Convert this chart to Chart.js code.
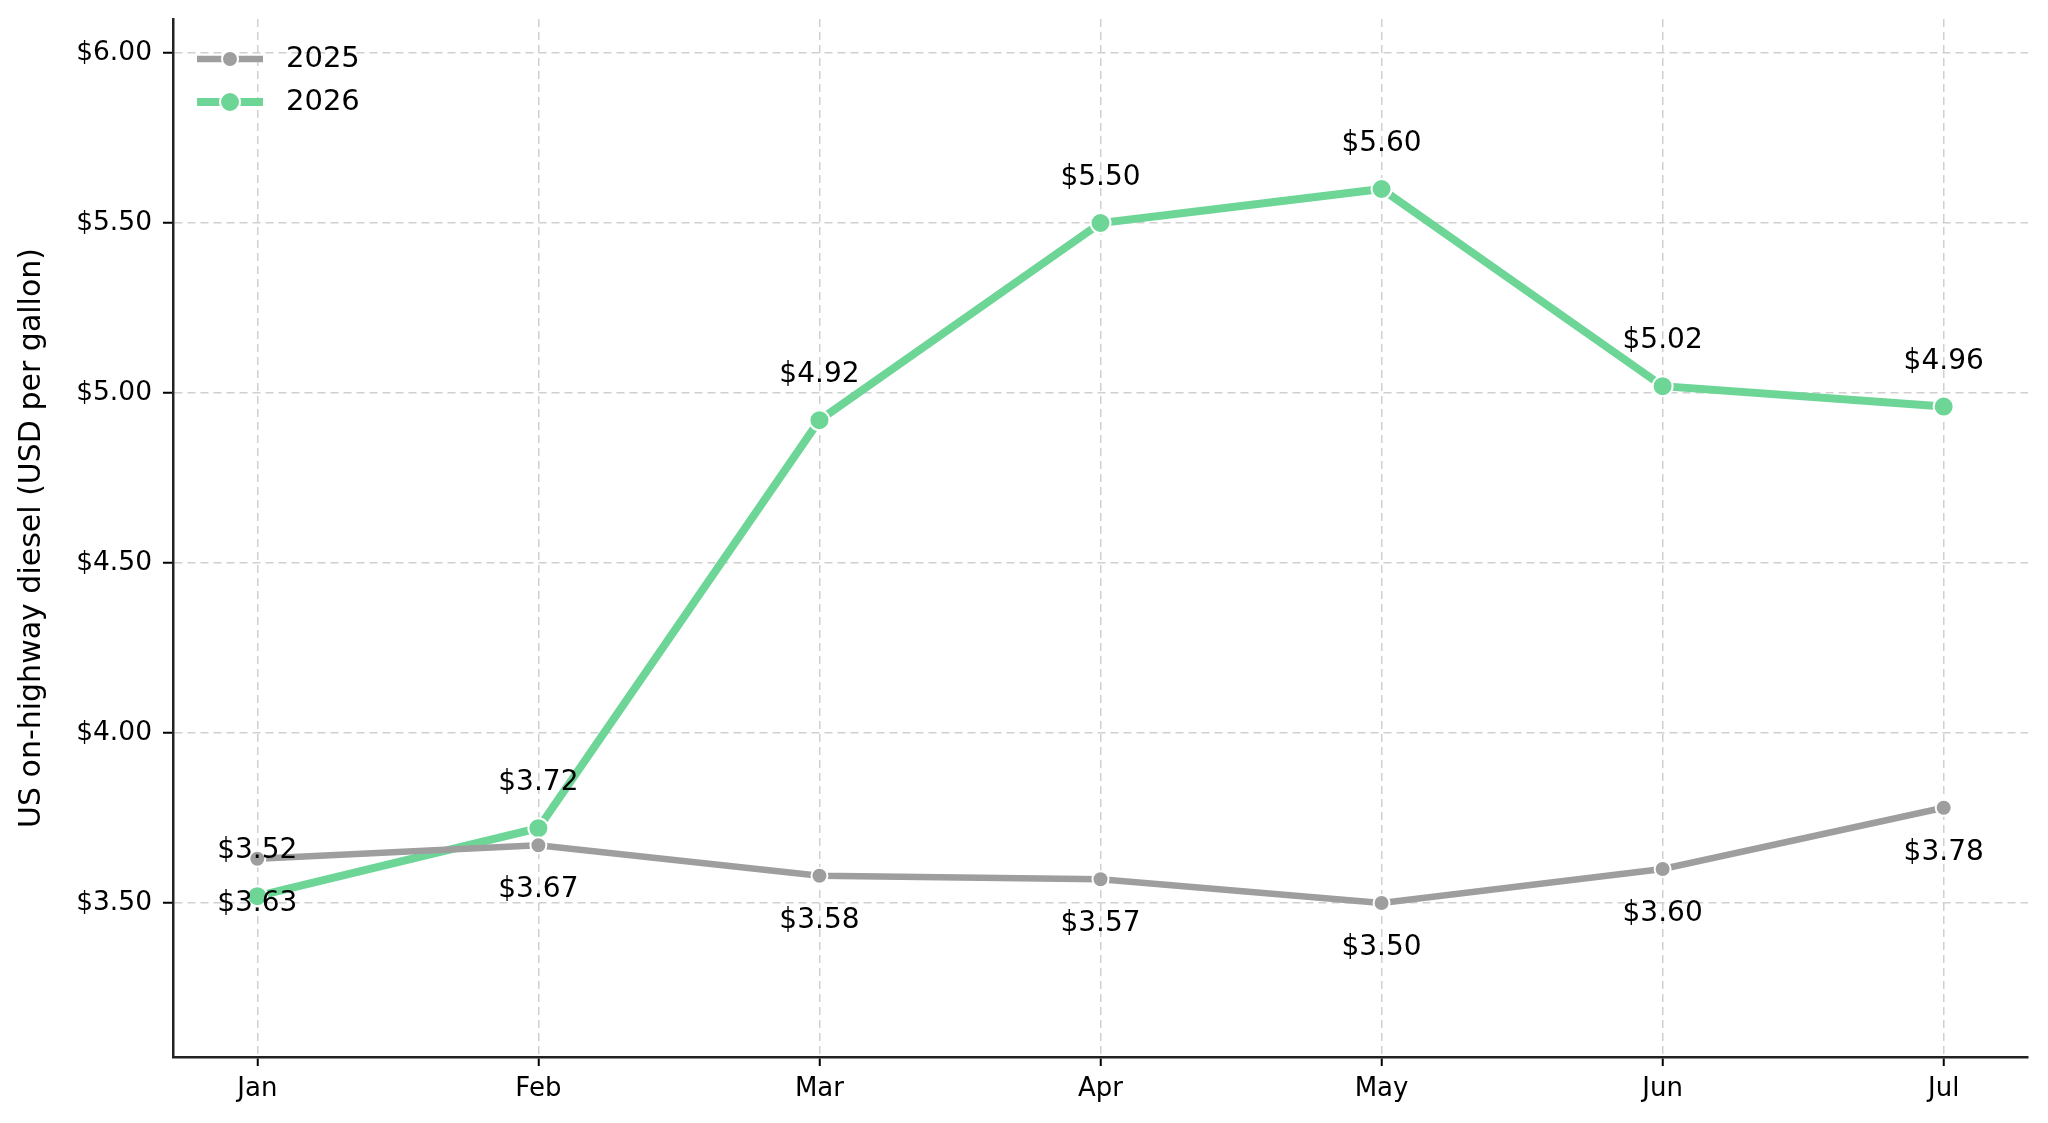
<!DOCTYPE html>
<html>
<head>
<meta charset="utf-8">
<title>US on-highway diesel</title>
<script src="https://cdn.jsdelivr.net/npm/chart.js@4.4.1/dist/chart.umd.min.js"></script>
<style>
    html, body { margin: 0; padding: 0; background: #fff; }
    #wrap { width: 2048px; height: 1123px; }
</style>
</head>
<body>
<div id="wrap"><canvas id="dieselChart" width="2048" height="1123"></canvas></div>
<script>
const months = ['Jan', 'Feb', 'Mar', 'Apr', 'May', 'Jun', 'Jul'];
const prices2025 = [3.63, 3.67, 3.58, 3.57, 3.50, 3.60, 3.78];
const prices2026 = [3.52, 3.72, 4.92, 5.50, 5.60, 5.02, 4.96];
const yTicks = [3.50, 4.00, 4.50, 5.00, 5.50, 6.00];

const FONT = "'DejaVu Sans', sans-serif";
const GRAY = '#9e9e9e';
const GREEN = '#6dd697';

class DieselChart {
    constructor() {
        this.ctx = document.getElementById('dieselChart');
        if (!this.ctx) return;
        this.chart = null;
        this.renderChart();
    }

    toPoints(values) {
        return values.map((v, i) => ({ x: i, y: v }));
    }

    renderChart() {
        this.chart = new Chart(this.ctx, {
            type: 'line',
            data: {
                datasets: [
                    {
                        label: '2025',
                        data: this.toPoints(prices2025),
                        borderColor: GRAY,
                        backgroundColor: GRAY,
                        borderWidth: 6.5,
                        pointRadius: 8,
                        pointHoverRadius: 8,
                        pointBorderColor: '#fff',
                        pointBorderWidth: 2,
                        labelSide: 'below'
                    },
                    {
                        label: '2026',
                        data: this.toPoints(prices2026),
                        borderColor: GREEN,
                        backgroundColor: GREEN,
                        borderWidth: 8,
                        pointRadius: 10,
                        pointHoverRadius: 10,
                        pointBorderColor: '#fff',
                        pointBorderWidth: 2,
                        labelSide: 'above'
                    }
                ]
            },
            options: this.getChartOptions(),
            plugins: [this.valueLabels(), this.lineLegend()]
        });
    }

    getChartOptions() {
        return {
            responsive: false,
            animation: false,
            devicePixelRatio: 1,
            layout: { padding: { top: 19, right: 20, left: 0, bottom: 0 } },
            plugins: {
                legend: { display: false },
                tooltip: { enabled: false }
            },
            scales: {
                x: {
                    type: 'linear',
                    bounds: 'data',
                    min: -0.3,
                    max: 6.3,
                    afterFit: (scale) => {
                        scale.height = 66;
                        scale.paddingLeft = 0;
                        scale.paddingRight = 0;
                    },
                    afterBuildTicks: (scale) => {
                        scale.ticks = months.map((m, i) => ({ value: i }));
                    },
                    ticks: {
                        padding: 8,
                        color: '#000',
                        font: { family: FONT, size: 26 },
                        callback: (value) => months[value] ?? ''
                    },
                    grid: {
                        color: '#d0d0d0',
                        lineWidth: 1.5,
                        tickLength: 9,
                        tickColor: '#000',
                        tickWidth: 2,
                        tickBorderDash: []
                    },
                    border: { display: true, color: '#222', width: 2.5, dash: [8, 5] }
                },
                y: {
                    bounds: 'data',
                    min: 3.047,
                    max: 6.10,
                    afterFit: (scale) => {
                        scale.width = 173;
                        scale.paddingTop = 0;
                        scale.paddingBottom = 0;
                    },
                    afterBuildTicks: (scale) => {
                        scale.ticks = yTicks.map(v => ({ value: v }));
                    },
                    ticks: {
                        padding: 11,
                        color: '#000',
                        font: { family: FONT, size: 26.5 },
                        callback: (value) => '$' + Number(value).toFixed(2)
                    },
                    grid: {
                        color: '#d0d0d0',
                        lineWidth: 1.5,
                        tickLength: 10,
                        tickColor: '#000',
                        tickWidth: 2,
                        tickBorderDash: []
                    },
                    border: { display: true, color: '#222', width: 2.5, dash: [8, 5] },
                    title: {
                        display: true,
                        text: 'US on-highway diesel (USD per gallon)',
                        color: '#000',
                        font: { family: FONT, size: 30 },
                        padding: { top: 14, bottom: 0 }
                    }
                }
            }
        };
    }

    // value labels: 2026 above its points, 2025 below
    valueLabels() {
        return {
            id: 'valueLabels',
            afterDatasetsDraw(chart) {
                const { ctx } = chart;
                ctx.save();
                ctx.font = `28px ${FONT}`;
                ctx.fillStyle = '#000';
                ctx.textAlign = 'center';
                ctx.textBaseline = 'middle';
                chart.data.datasets.forEach((ds, di) => {
                    const meta = chart.getDatasetMeta(di);
                    const dy = ds.labelSide === 'above' ? -45 : 45;
                    meta.data.forEach((pt, i) => {
                        ctx.fillText('$' + ds.data[i].y.toFixed(2), pt.x, pt.y + dy);
                    });
                });
                ctx.restore();
            }
        };
    }

    // matplotlib-like legend: short line with a marker in the middle
    lineLegend() {
        return {
            id: 'lineLegend',
            afterDraw(chart) {
                const { ctx, chartArea } = chart;
                ctx.save();
                chart.data.datasets.forEach((ds, di) => {
                    const y = chartArea.top + 40 + di * 43;
                    const x0 = chartArea.left + 24;
                    const x1 = x0 + 66;
                    const xm = (x0 + x1) / 2;
                    ctx.strokeStyle = ds.borderColor;
                    ctx.lineWidth = ds.borderWidth;
                    ctx.beginPath();
                    ctx.moveTo(x0, y);
                    ctx.lineTo(x1, y);
                    ctx.stroke();
                    ctx.beginPath();
                    ctx.arc(xm, y, ds.pointRadius, 0, Math.PI * 2);
                    ctx.fillStyle = ds.backgroundColor;
                    ctx.fill();
                    ctx.lineWidth = ds.pointBorderWidth;
                    ctx.strokeStyle = '#fff';
                    ctx.stroke();
                    ctx.fillStyle = '#000';
                    ctx.font = `29px ${FONT}`;
                    ctx.textAlign = 'left';
                    ctx.textBaseline = 'middle';
                    ctx.fillText(ds.label, x1 + 23, y);
                });
                ctx.restore();
            }
        };
    }
}

new DieselChart();
</script>
</body>
</html>
